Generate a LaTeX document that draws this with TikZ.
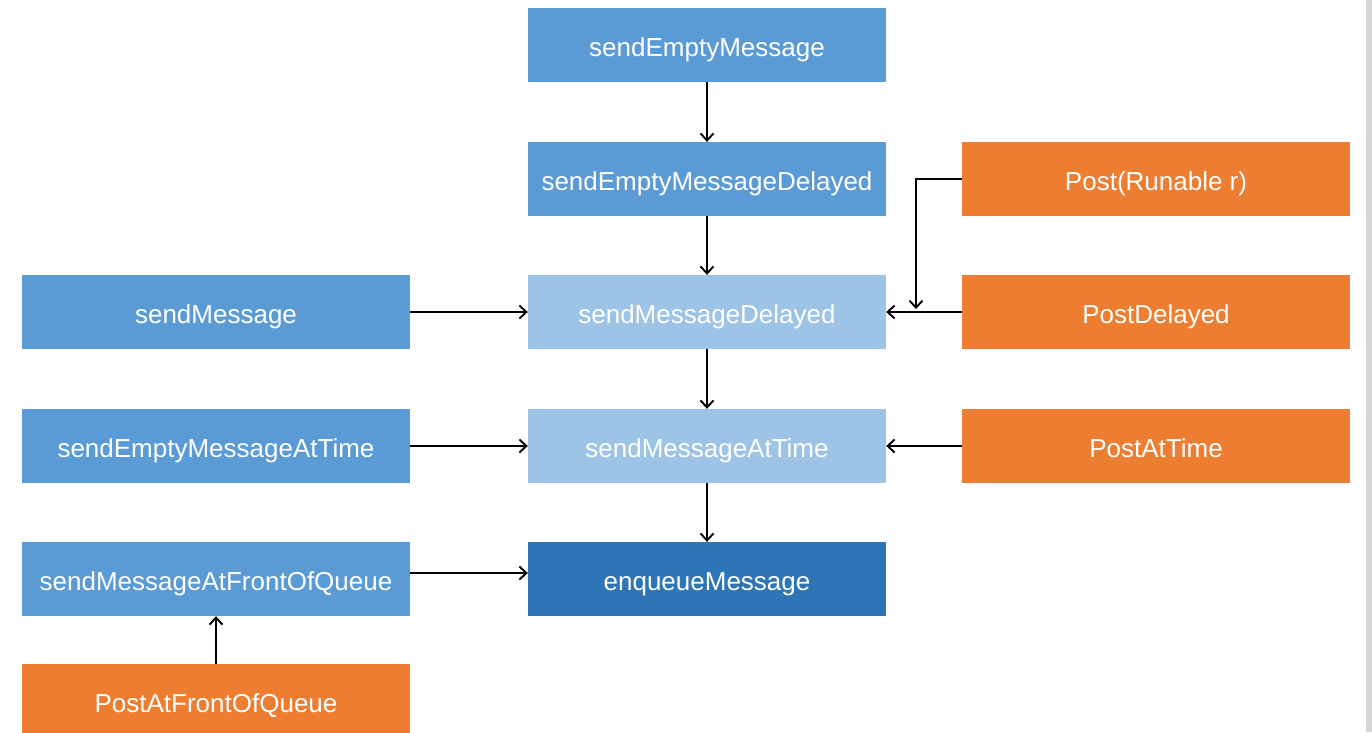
\documentclass[tikz,border=0pt]{standalone}
\usepackage{fontspec}
\setmainfont{Liberation Sans}
\usetikzlibrary{arrows.meta}
\definecolor{mblue}{HTML}{5B9BD5}
\definecolor{lblue}{HTML}{9DC3E6}
\definecolor{dblue}{HTML}{2E75B6}
\definecolor{morange}{HTML}{ED7D31}
\definecolor{edgegray}{HTML}{D6D6D6}
\tikzset{
  box/.style={rectangle, inner sep=0pt, text=white, font=\fontsize{26}{30}\selectfont, text height=22pt, text depth=0pt},
  cbox/.style={box, minimum width=358pt, minimum height=74pt},
  sbox/.style={box, minimum width=388pt, minimum height=74pt},
  conn/.style={line width=1.9pt, -{Straight Barb[length=7pt,width=13pt,line width=1.9pt]}}
}
\begin{document}
\begin{tikzpicture}[x=1pt,y=-1pt]
\useasboundingbox (0,0) rectangle (1372,732);
\fill[white] (0,0) rectangle (1372,732);
\fill[edgegray] (1366,0) rectangle (1372,732);
% centre column
\node[cbox, fill=mblue] (sem) at (707,45) {sendEmptyMessage};
\node[cbox, fill=mblue] (semd) at (707,179) {sendEmptyMessageDelayed};
\node[cbox, fill=lblue] (smd) at (707,312) {sendMessageDelayed};
\node[cbox, fill=lblue] (smat) at (707,446) {sendMessageAtTime};
\node[cbox, fill=dblue] (enq) at (707,579) {enqueueMessage};
% left column
\node[sbox, fill=mblue] (sm) at (216,312) {sendMessage};
\node[sbox, fill=mblue] (semat) at (216,446) {sendEmptyMessageAtTime};
\node[sbox, fill=mblue] (smfq) at (216,579) {sendMessageAtFrontOfQueue};
\node[sbox, fill=morange] (pfq) at (216,701) {PostAtFrontOfQueue};
% right column
\node[sbox, fill=morange] (post) at (1156,179) {Post(Runable r)};
\node[sbox, fill=morange] (pd) at (1156,312) {PostDelayed};
\node[sbox, fill=morange] (pat) at (1156,446) {PostAtTime};
% connectors
\draw[conn] (sem) -- (semd);
\draw[conn] (semd) -- (smd);
\draw[conn] (smd) -- (smat);
\draw[conn] (smat) -- (enq);
\draw[conn] (sm) -- (smd);
\draw[conn] (semat) -- (smat);
\draw[conn] ([yshift=6pt]smfq.east) -- ([yshift=6pt]enq.west);
\draw[conn] (pfq) -- (smfq);
\draw[conn] (pd) -- (smd);
\draw[conn] (pat) -- (smat);
\coordinate (pend) at (916,309);
\draw[conn] (post.west) -| (pend);
\end{tikzpicture}
\end{document}
